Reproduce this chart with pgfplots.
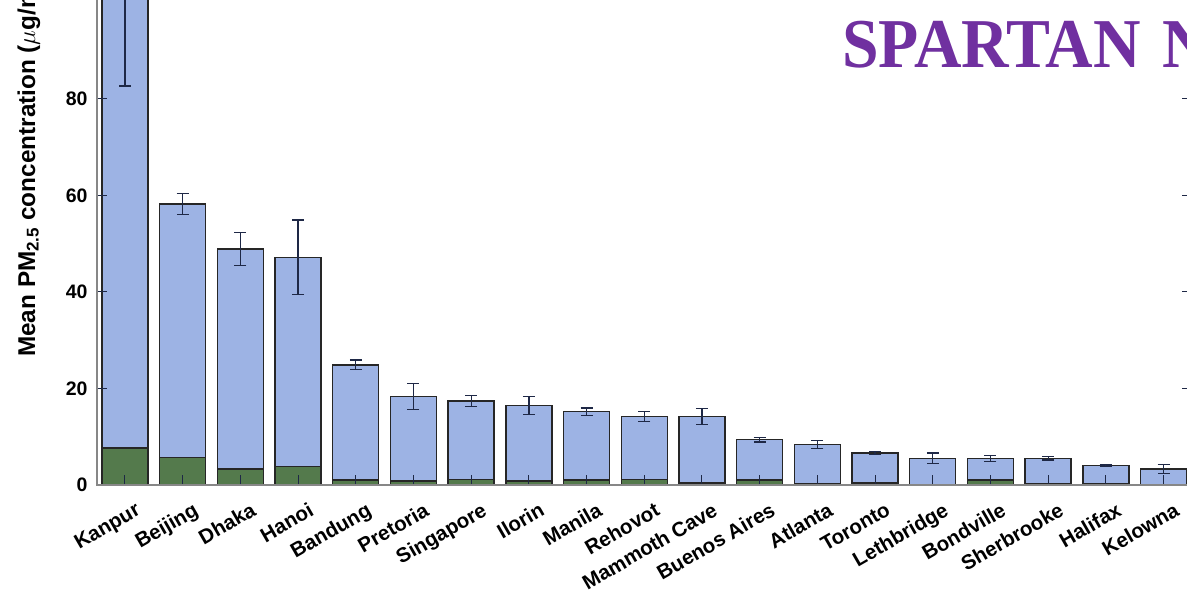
\documentclass[border=0pt]{standalone}
\usepackage{fontspec}
\setmainfont{Liberation Sans}
\newfontfamily\titlefont{Liberation Serif}
\usepackage{graphicx}
\usepackage{pgfplots}
\pgfplotsset{compat=1.18}
\usepackage{pgfplotstable}

\definecolor{barblue}{RGB}{157,179,228}
\definecolor{bargreen}{RGB}{84,122,76}
\definecolor{spartan}{RGB}{112,48,160}
\definecolor{errnavy}{RGB}{30,40,70}
\definecolor{axgray}{RGB}{135,135,135}

% mean PM2.5 per site, its uncertainty, and the lower (green) component
\pgfplotstableread{
idx total err dust
0  104.0 21.3 7.7
1  58.2  2.2  5.7
2  48.9  3.4  3.3
3  47.2  7.7  3.8
4  24.9  1.0  1.0
5  18.3  2.7  0.8
6  17.4  1.1  1.2
7  16.5  1.9  0.8
8  15.2  0.75 1.0
9  14.2  1.0  1.2
10 14.2  1.65 0.4
11 9.4   0.5  1.0
12 8.4   0.85 0.35
13 6.6   0.3  0.4
14 5.5   1.1  0.1
15 5.5   0.65 1.0
16 5.5   0.35 0.2
17 4.0   0.15 0.2
18 3.3   0.9  0.1
}\sitedata

\begin{document}
\begin{tikzpicture}
\useasboundingbox (0,0) rectangle (1187pt,593pt);
\clip (0,0) rectangle (1187pt,593pt);
\fill[white] (0,0) rectangle (1187pt,593pt);
\begin{axis}[
  at={(97pt,108pt)}, anchor=south west,
  x=57.7pt, y=4.825pt,
  xmin=-0.485, xmax=18.485, ymin=0, ymax=110,
  axis on top,
  axis line style={draw=axgray, line width=1.2pt},
  xtick={0,...,18},
  xticklabels={Kanpur,Beijing,Dhaka,Hanoi,Bandung,Pretoria,Singapore,Ilorin,Manila,Rehovot,Mammoth Cave,Buenos Aires,Atlanta,Toronto,Lethbridge,Bondville,Sherbrooke,Halifax,Kelowna},
  ytick={0,20,40,60,80},
  tick align=inside,
  major tick length=10pt,
  tick style={draw=errnavy, line width=1pt},
  xtick pos=bottom,
  ytick pos=both,
  yticklabel pos=left,
  /pgf/number format/assume math mode=true,
  yticklabel style={font=\fontsize{19.5}{20}\selectfont\bfseries, xshift=-6pt},
  xticklabel style={font=\fontsize{20.5}{21}\selectfont\bfseries, rotate=30, anchor=north east, xshift=1pt, yshift=-18pt, inner sep=1pt},
]
\addplot[ybar, bar width=46pt, bar shift=0pt, fill=barblue, draw=black!85, line width=1.4pt,
  error bars/.cd, y dir=both, y explicit,
  error bar style={draw=errnavy, line width=1.3pt},
  error mark options={rotate=90, mark size=6pt, line width=1.3pt, draw=errnavy}]
  table[x=idx, y=total, y error=err]{\sitedata};
\addplot[ybar, bar width=46pt, bar shift=0pt, fill=bargreen, draw=black!85, line width=1.4pt]
  table[x=idx, y=dust]{\sitedata};
\end{axis}
\node[rotate=90, anchor=base west, inner sep=0pt, font=\fontsize{24.3}{25}\selectfont\bfseries]
  at (35pt,236pt) {Mean PM\textsubscript{2.5} concentration ($\mu$g/m$^3$)};
\node[anchor=base west, inner sep=0pt, text=spartan]
  at (842pt,525pt) {\scalebox{0.94}[1]{\titlefont\bfseries\fontsize{70}{70}\selectfont SPARTAN\hspace{6pt} N}};
\end{tikzpicture}
\end{document}
